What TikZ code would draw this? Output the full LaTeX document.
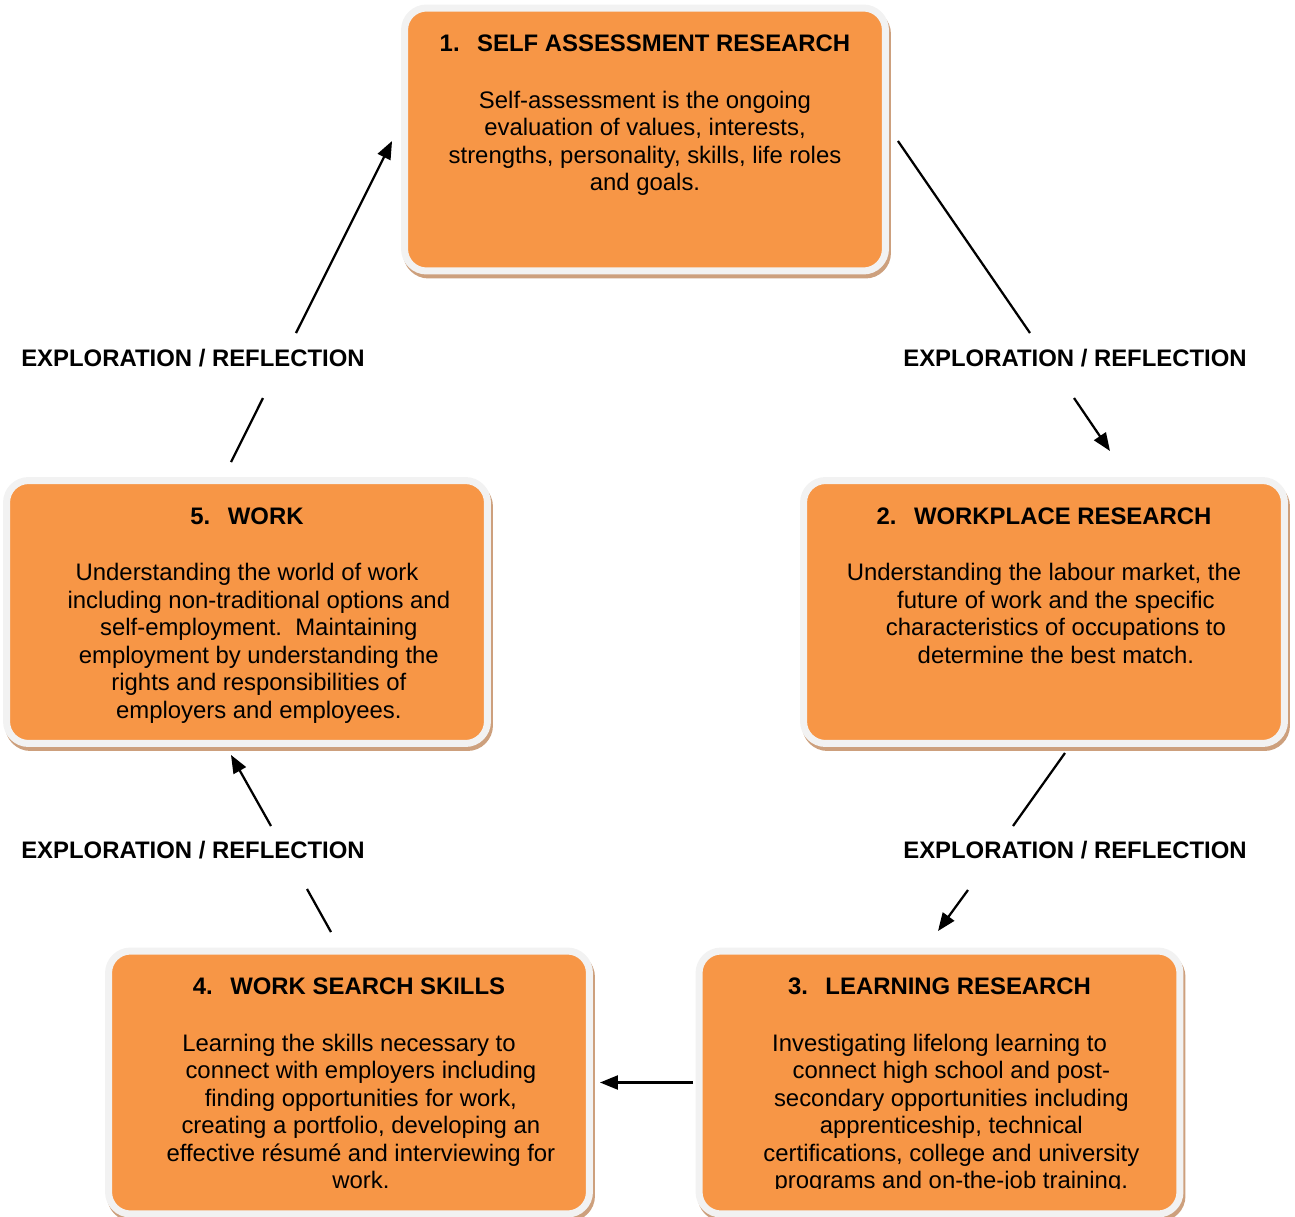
\documentclass[tikz,border=0pt]{standalone}
\usepackage{fontspec}
\setmainfont{Liberation Sans}
\usetikzlibrary{positioning,calc,arrows.meta}
\definecolor{boxorange}{RGB}{247,150,70}
\definecolor{boxrim}{RGB}{242,242,242}
\definecolor{boxshadow}{RGB}{205,160,125}
\newcommand{\shiftln}{\hspace*{13.5pt}}
\begin{document}
\begin{tikzpicture}[x=0.02cm, y=-0.02cm, >={Triangle[length=0.36cm,width=0.28cm]}, line join=round,
	stage/.style={draw=boxrim, fill=boxorange, line width=0.14cm, rounded corners=0.44cm,
		minimum width=9.62cm, minimum height=5.26cm, inner sep=0pt, outer sep=0pt,
		preaction={draw=boxshadow, line width=0.14cm, transform canvas={xshift=0.04cm, yshift=-0.08cm}}},
	stagetext/.style={align=center, inner sep=0pt, font=\fontsize{13.6}{15.65}\selectfont},
	loopnote/.style={inner sep=0pt, font=\fontsize{13.6}{15.65}\selectfont\bfseries},
	link/.style={line width=0.045cm}]
	\useasboundingbox (0,0) rectangle (1295,1217);
	% the five stages
	\node[stage] (b1) at (645,139.5) {};
	\node[stage] (b2) at (1044,612) {};
	\node[stage] (b3) at (939.5,1082.5) {};
	\node[stage] (b4) at (349,1082.5) {};
	\node[stage] (b5) at (247,612) {};
	\node[stagetext, below=0.53cm of b1.north] (t1) {\textbf{1.\hspace{10pt}SELF ASSESSMENT RESEARCH}\\[16.5pt]
		Self-assessment is the ongoing\\evaluation of values, interests,\\strengths, personality, skills, life roles\\and goals.};
	\node[stagetext, below=0.53cm of b2.north] (t2) {\textbf{2.\hspace{10pt}WORKPLACE RESEARCH}\\[16.5pt]
		Understanding the labour market, the\\\shiftln future of work and the specific\\\shiftln characteristics of occupations to\\\shiftln determine the best match.};
	\begin{scope}
		\clip ($(b3.north west)+(-10,-10)$) rectangle ($(b3.south east)+(10,-25)$);
		\node[stagetext, below=0.53cm of b3.north] (t3) {\textbf{3.\hspace{10pt}LEARNING RESEARCH}\\[16.5pt]
			Investigating lifelong learning to\\\shiftln connect high school and post-\\\shiftln secondary opportunities including\\\shiftln apprenticeship, technical\\\shiftln certifications, college and university\\\shiftln programs and on-the-job training.};
	\end{scope}
	\node[stagetext, below=0.53cm of b4.north] (t4) {\textbf{4.\hspace{10pt}WORK SEARCH SKILLS}\\[16.5pt]
		Learning the skills necessary to\\\shiftln connect with employers including\\\shiftln finding opportunities for work,\\\shiftln creating a portfolio, developing an\\\shiftln effective résumé and interviewing for\\\shiftln work.};
	\node[stagetext, below=0.53cm of b5.north] (t5) {\textbf{5.\hspace{10pt}WORK}\\[16.5pt]
		Understanding the world of work\\\shiftln including non-traditional options and\\\shiftln self-employment.\ \ Maintaining\\\shiftln employment by understanding the\\\shiftln rights and responsibilities of\\\shiftln employers and employees.};
	% labels between stages
	\node[loopnote] (l12) at (1075,358) {EXPLORATION / REFLECTION};
	\node[loopnote] (l23) at (1075,850) {EXPLORATION / REFLECTION};
	\node[loopnote] (l45) at (193,850) {EXPLORATION / REFLECTION};
	\node[loopnote] (l51) at (193,358) {EXPLORATION / REFLECTION};
	% connectors
	\draw[link] ($(b1.east)+(12.5,1.5)$) -- ($(l12)+(-45,-25)$);
	\draw[link,->] ($(l12)+(-1,40)$) -- ($(b2.north)+(66,-29.5)$);
	\draw[link] ($(b2.south)+(21,9.5)$) -- ($(l23)+(-62,-24)$);
	\draw[link,->] ($(l23)+(-107,40)$) -- ($(b3.north)+(-1.5,-20)$);
	\draw[link,->] ($(b3.west)+(-6,0)$) -- ($(b4.east)+(10.5,0)$);
	\draw[link] ($(b4.north)+(-18,-19)$) -- ($(l45)+(114,39)$);
	\draw[link,->] ($(l45)+(78,-24)$) -- ($(b5.south)+(-16,11.5)$);
	\draw[link] ($(b5.north)+(-16,-18.5)$) -- ($(l51)+(70,40)$);
	\draw[link,->] ($(l51)+(103,-25)$) -- ($(b1.west)+(-12.5,1.5)$);
\end{tikzpicture}
\end{document}
